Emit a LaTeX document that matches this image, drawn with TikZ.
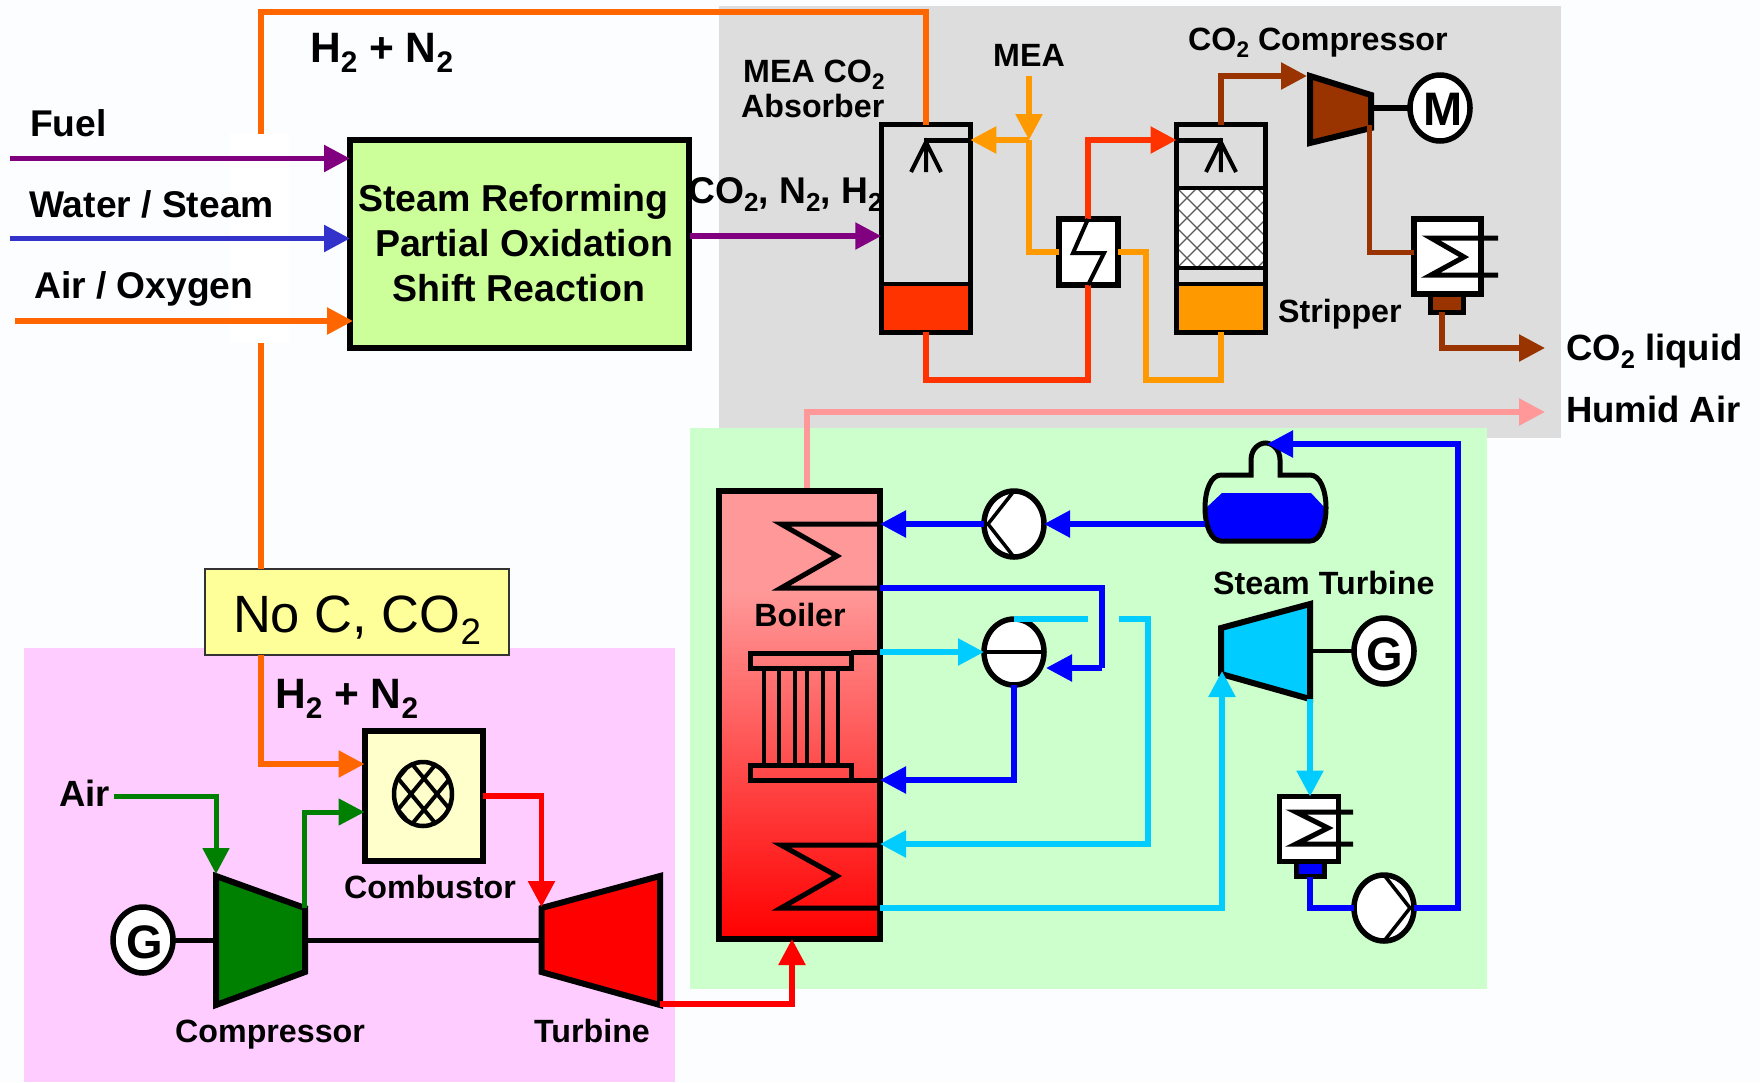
\documentclass[tikz,border=0pt]{standalone}
\usepackage{graphicx}
\usepackage{fontspec}
\setmainfont{Liberation Sans}
\usetikzlibrary{arrows.meta,shapes.geometric}
\definecolor{cBg}{HTML}{FCFDFE}
\definecolor{cGray}{HTML}{DDDDDD}
\definecolor{cGreenBg}{HTML}{CCFFCC}
\definecolor{cPink}{HTML}{FFCCFF}
\definecolor{cMain}{HTML}{CCFF99}
\definecolor{cNote}{HTML}{FFFF99}
\definecolor{cComb}{HTML}{FFFFCC}
\definecolor{cOrange}{HTML}{FF6600}
\definecolor{cAmber}{HTML}{FF9900}
\definecolor{cRedOr}{HTML}{FF3300}
\definecolor{cBrown}{HTML}{993300}
\definecolor{cPurple}{HTML}{800080}
\definecolor{cIndigo}{HTML}{3333CC}
\definecolor{cBlue}{HTML}{0000FF}
\definecolor{cCyan}{HTML}{00CCFF}
\definecolor{cGreen}{HTML}{008000}
\definecolor{cRed}{HTML}{FF0000}
\definecolor{cSalmon}{HTML}{FF9999}
\pgfdeclareverticalshading{boilershade}{100bp}{color(0bp)=(cRed); color(25bp)=(cRed); color(64bp)=(cSalmon); color(100bp)=(cSalmon)}
\newcommand{\dn}[1]{\raisebox{-.24em}{\scalebox{.7}{#1}}}
\tikzset{
  x=1pt,y=-1pt,
  flow/.style={line width=5.5pt,line join=miter},
  arr/.style={flow,-{Triangle[length=26pt,width=26pt]}},
  kit/.style={draw=black,line width=6pt,inner sep=0pt,outer sep=0pt,line join=miter},
  inner/.style={draw=black,line width=5pt,line join=miter},
  round/.style={ellipse,draw=black,line width=5.5pt,fill=white,inner sep=0pt,outer sep=0pt,minimum width=60pt,minimum height=66pt},
  lab/.style={inner sep=0pt,anchor=base west,font=\bfseries\fontsize{32.2}{36}\selectfont},
  labb/.style={inner sep=0pt,anchor=base west,font=\bfseries\fontsize{36.5}{40}\selectfont},
  labw/.style={inner sep=0pt,anchor=base west,font=\bfseries\fontsize{37.2}{40}\selectfont},
  labc/.style={inner sep=0pt,anchor=base,font=\bfseries\fontsize{37.5}{44}\selectfont},
  labd/.style={inner sep=0pt,anchor=base west,font=\bfseries\fontsize{42.5}{46}\selectfont},
  sym/.style={font=\bfseries\fontsize{47}{50}\selectfont},
}
\begin{document}
\begin{tikzpicture}
\useasboundingbox (0,0) rectangle (1760,1082);
% backgrounds
\fill[cBg] (0,0) rectangle (1760,1082);
\fill[white] (230,133) rectangle (289,343);
\fill[cGray] (719,6) rectangle (1561,438);
\fill[cGreenBg] (690,428) rectangle (1487,989);
\fill[cPink] (24,648) rectangle (675,1082);

% main reformer
\node[kit,fill=cMain,minimum width=339pt,minimum height=208pt] (main) at (519.5,244) {};
\node[labc] (mainA) at (513.5,211) {Steam Reforming};
\node[labc] (mainB) at (524,256) {Partial Oxidation};
\node[labc] (mainC) at (519,301) {Shift Reaction};

% note box
\node[draw=black!80,line width=1.5pt,fill=cNote,inner sep=0pt,outer sep=0pt,minimum width=304pt,minimum height=86pt] (note) at (357,612) {};

% inlet ends
\coordinate (fuelS) at (10,158.5);
\coordinate (waterS) at (10,238.5);
\coordinate (airS) at (15,321);
\coordinate (h2top) at (261,134);
\coordinate (h2bot) at (261,343);
\coordinate (synS) at (690,236);

% absorber
\fill[cRedOr] (881.5,284) rectangle (970,332);
\node[kit,line width=5pt,minimum width=89pt,minimum height=207.5pt] (absorber) at (925.75,228.25) {};
\draw[black,line width=3.5pt] (absorber.west |- 0,284) -- (absorber.east |- 0,284);
\draw[inner] (absorber.east |- 0,140) -- (926,140) -- (926,146);
\draw[inner,line width=4pt] (911,172) -- (926,142) -- (941,172) (926,142) -- (926,172);

% stripper
\fill[cAmber] (1177,284) rectangle (1264.5,332);
\fill[white] (1177,188) rectangle (1264.5,268);
\begin{scope}
\clip (1177,188) rectangle (1264.5,268);
\foreach \d in {-80,-60,...,100}{
  \draw[black!65,line width=1.2pt] (1177+\d,188) -- (1177+\d+80,268);
  \draw[black!65,line width=1.2pt] (1177+\d,268) -- (1177+\d+80,188);
}
\end{scope}
\node[kit,line width=5pt,minimum width=88.5pt,minimum height=207.5pt] (stripper) at (1220.75,228.25) {};
\draw[black,line width=3.5pt] (1177,188) -- (1264.5,188) (1177,268) -- (1264.5,268) (1177,284) -- (1264.5,284);
\draw[inner] (stripper.west |- 0,140) -- (1220.75,140) -- (1220.75,146);
\draw[inner,line width=4pt] (1206,172) -- (1220.75,142) -- (1236,172) (1220.75,142) -- (1220.75,172);

% heat exchanger
\node[kit,fill=white,minimum width=59pt,minimum height=66pt] (hx) at (1088,252) {};
\coordinate (meaS) at (1029,76);
\coordinate (meaJ) at (1029,140);

% CO2 compressor and motor
\draw[kit,fill=cBrown] (1310,76) -- (1371,95) -- (1371,128) -- (1310,143) -- cycle;
\coordinate (cmpIn) at (1307,76);
\coordinate (cmpOut) at (1369,125);
\coordinate (cmpShaft) at (1371,108);
\node[round] (motor) at (1440,108) {};
\node[sym] (motorT) at (1443,109) {M};
\draw[kit] (cmpShaft) -- (motor.west);

% CO2 condenser
\node[kit,fill=cBrown,line width=5pt,minimum width=33pt,minimum height=18pt] (wellA) at (1447,303) {};
\node[kit,fill=white,minimum width=67pt,minimum height=75pt] (condA) at (1447.5,256.5) {};
\draw[inner] (1498,238) -- (1431,238) -- (1464,257) -- (1431,275) -- (1498,275);
\coordinate (co2End) at (1545,348);
\coordinate (humidEnd) at (1545,412);
\coordinate (humidS) at (807,491);

% process flows top right
\draw[flow,cOrange] (h2top) -- (261,12) -- (925.75,12) -- (absorber.north);
\draw[arr,cPurple] (synS) -- (absorber.west |- synS);
\draw[arr,cAmber] (meaS) -- (meaJ);
\draw[arr,cAmber] (meaJ) -- (absorber.east |- meaJ);
\draw[flow,cAmber] (meaJ) -- (1029,252) -- (hx.west);
\draw[flow,cAmber] (hx.east) -- (1146,252) -- (1146,380) -- (1220.75,380) -- (stripper.south);
\draw[flow,cRedOr] (absorber.south) -- (925.75,380) -- (1088,380) -- (hx.south);
\draw[arr,cRedOr] (hx.north) -- (1088,140) -- (stripper.west |- 0,140);
\draw[arr,cBrown] (stripper.north) -- (1220.75,76) -- (cmpIn);
\draw[flow,cBrown,line width=5pt] (cmpOut) -- (1369,252) -- (condA.west |- 0,252);
\draw[arr,cBrown] (wellA.south -| 1442,0) -- (1442,348) -- (co2End);
\draw[arr,cSalmon] (humidS) -- (807,412) -- (humidEnd);
\draw[inner,line width=4pt] (hx.north) -- (1073,253) -- (1104,253) -- (hx.south);

% inlets
\draw[arr,cPurple] (fuelS) -- (main.west |- fuelS);
\draw[arr,cIndigo] (waterS) -- (main.west |- waterS);
\draw[arr,cOrange] (airS) -- (353,321);

% boiler
\node[kit,shading=boilershade,minimum width=161pt,minimum height=448pt] (boiler) at (799.5,715) {};
\draw[inner] (boiler.east |- 0,524) -- (781,524) -- (837,556) -- (781,588) -- (boiler.east |- 0,588);
\draw[inner] (boiler.east |- 0,845) -- (781,845) -- (837,876) -- (781,908) -- (boiler.east |- 0,908);
\draw[inner] (750,653) rectangle (851,668);
\draw[inner] (750,765) rectangle (851,780);
\draw[inner] (851,652) -- (boiler.east |- 0,652);
\draw[inner] (851,780) -- (boiler.east |- 0,780);
\foreach \x in {764,779,795,807,823,838}{\draw[black,line width=4pt] (\x,668) -- (\x,765);}

% feed pump
\node[round] (pumpA) at (1014,524) {};
\draw[black,line width=3.5pt] (pumpA.north) -- (988,524) -- (pumpA.south);
% steam drum
\node[round] (sdrum) at (1014,652) {};
\draw[black,line width=4.5pt] (sdrum.west) -- (sdrum.east);
% feed tank
\fill[cBlue] (1222,493) -- (1311,493) -- (1325,508) .. controls (1325,525) and (1320,541) .. (1310,541) -- (1221,541) .. controls (1211,541) and (1206,525) .. (1206,508) -- cycle;
\draw[kit,line width=5pt] (1251,475) -- (1221,475) .. controls (1211,475) and (1205,490) .. (1205,508) .. controls (1205,525) and (1211,541) .. (1221,541) -- (1310,541) .. controls (1320,541) and (1326,525) .. (1326,508) .. controls (1326,490) and (1320,475) .. (1310,475) -- (1280,475) -- (1280,460) .. controls (1280,449) and (1272,443) .. (1265.5,443) .. controls (1259,443) and (1251,449) .. (1251,460) -- cycle;
\coordinate (tankW) at (1205,524);
\coordinate (tankT) at (1267,444);

% steam turbine
\draw[kit,fill=cCyan] (1221,628) -- (1310,604) -- (1310,699) -- (1221,674) -- cycle;
\coordinate (stIn) at (1222,671);
\coordinate (stOut) at (1310,699);
\node[round] (genB) at (1384,651) {};
\node[sym] (genBT) at (1385,654) {G};
\draw[kit,line width=4.5pt] (1310,651) -- (genB.west);

% condenser 2
\node[kit,fill=cBlue,line width=5pt,minimum width=28pt,minimum height=15pt] (wellB) at (1310,869) {};
\node[kit,line width=5.5pt,fill=white,minimum width=59pt,minimum height=65pt] (condB) at (1309,829) {};
\draw[inner] (1353,812) -- (1296,812) -- (1328,828) -- (1296,844) -- (1353,844);
\node[round] (pumpB) at (1384,908) {};
\draw[black,line width=3.5pt] (pumpB.north) -- (1410,908) -- (pumpB.south);

% water / steam flows
\draw[arr,cBlue] (tankW) -- (pumpA.east);
\draw[arr,cBlue] (pumpA.west) -- (boiler.east |- pumpA.west);
\draw[flow,cBlue] (boiler.east |- 0,588) -- (1102,588) -- (1102,668);
\draw[arr,cBlue] (1102,668) -- (1046,668);
\draw[arr,cBlue] (sdrum.south) -- (1014,780) -- (boiler.east |- 0,780);
\draw[flow,cBlue] (wellB.south) -- (1310,908) -- (pumpB.west);
\draw[arr,cBlue] (pumpB.east) -- (1458,908) -- (1458,444) -- (tankT);
\draw[arr,cCyan] (boiler.east |- sdrum.west) -- (sdrum.west);
\draw[flow,cCyan] (sdrum.north) -- (sdrum.north -| 1088,0);
\draw[arr,cCyan] (1119,619) -- (1148,619) -- (1148,844) -- (boiler.east |- 0,844);
\draw[arr,cCyan] (boiler.east |- 0,908) -- (1222,908) -- (stIn);
\draw[arr,cCyan] (stOut) -- (condB.north -| stOut);

% gas turbine train
\draw[kit,fill=cGreen] (216,876) -- (305,908) -- (305,972) -- (216,1005) -- cycle;
\draw[kit,fill=cRed] (541.5,908) -- (660,876) -- (660,1005) -- (541.5,972) -- cycle;
\coordinate (gcIn) at (216,874);
\coordinate (gcOut) at (304,908);
\coordinate (gtIn) at (541.5,907);
\coordinate (gtOut) at (660,1004);
\node[round] (genA) at (143,940) {};
\node[sym] (genAT) at (145,942) {G};
\draw[kit,line width=5pt] (genA.east) -- (216,940);
\draw[kit,line width=5pt] (305,940) -- (541.5,940);

% combustor
\node[kit,fill=cComb,minimum width=118pt,minimum height=130pt] (comb) at (423.5,796) {};
\begin{scope}
\clip (423,794) ellipse [x radius=29,y radius=32];
\foreach \d in {-38,-12,14,40}{
  \draw[black,line width=4pt] (423+\d-40,794-48) -- (423+\d+40,794+48);
  \draw[black,line width=4pt] (423+\d+40,794-48) -- (423+\d-40,794+48);
}
\end{scope}
\node[ellipse,draw=black,line width=4.5pt,inner sep=0pt,outer sep=0pt,minimum width=58pt,minimum height=64pt] (combC) at (423,794) {};

\coordinate (airIn) at (114,796);
\draw[arr,cOrange] (note.south -| 261,0) -- (261,764) -- (comb.west |- 0,764);
\draw[flow,cOrange] (h2bot) -- (note.north -| h2bot);
\draw[arr,cGreen,line width=5pt] (airIn) -- (216,796) -- (gcIn);
\draw[arr,cGreen,line width=5pt] (gcOut) -- (304,812) -- (comb.west |- 0,812);
\draw[arr,cRed] (comb.east |- 0,796) -- (541.5,796) -- (gtIn);
\draw[arr,cRed] (gtOut) -- (792,1004) -- (boiler.south -| 792,0);

% labels
\node[inner sep=0pt,anchor=base,font=\fontsize{52.5}{56}\selectfont] (noteT) at (357,632) {No C, CO\dn{2}};
\node[labd] (lh2a) at (310,62) {H\dn{2} + N\dn{2}};
\node[labw] (lfuel) at (30,136) {Fuel};
\node[labw] (lwater) at (29,217) {Water / Steam};
\node[labw] (lair) at (34,298) {Air / Oxygen};
\node[labw] (lsyn) at (688,203) {CO\dn{2}, N\dn{2}, H\dn{2}};
\node[lab] (labsA) at (743,82) {MEA CO\dn{2}};
\node[lab] (labsB) at (741,117) {Absorber};
\node[lab,anchor=base] (lmea) at (1029,66) {MEA};
\node[lab] (lcmp) at (1188,50) {CO\dn{2} Compressor};
\node[lab] (lstrip) at (1278,322) {Stripper};
\node[labb] (lliq) at (1566,360) {CO\dn{2} liquid};
\node[labb] (lhum) at (1566,422) {Humid Air};
\node[lab,anchor=base] (lboil) at (800,626) {Boiler};
\node[lab] (lst) at (1213,594) {Steam Turbine};
\node[labb] (lair2) at (59,806) {Air};
\node[labd] (lh2b) at (275,708) {H\dn{2} + N\dn{2}};
\node[lab] (lcomb) at (344,898) {Combustor};
\node[lab] (lcomp) at (175,1042) {Compressor};
\node[lab] (lturb) at (534,1042) {Turbine};
\end{tikzpicture}
\end{document}
